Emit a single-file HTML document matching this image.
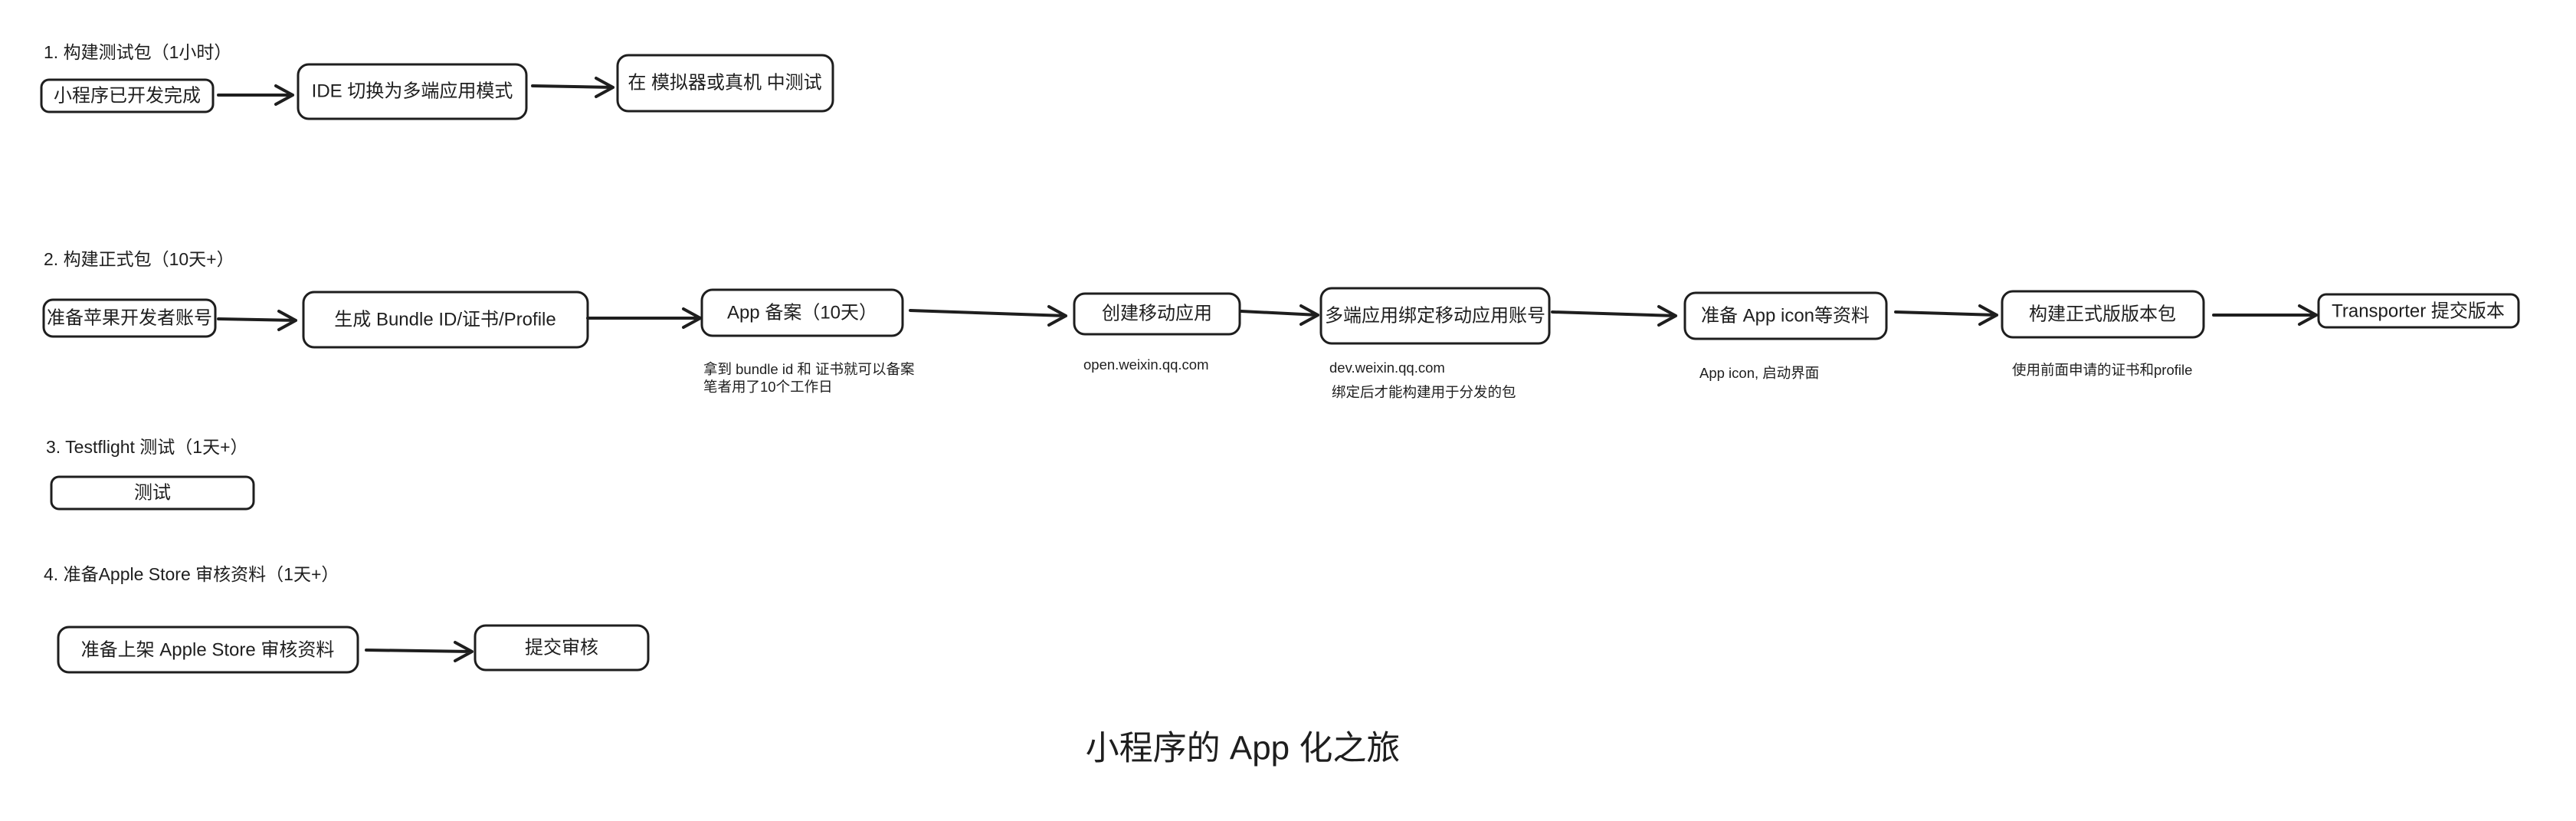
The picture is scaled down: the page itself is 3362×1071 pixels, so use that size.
<!DOCTYPE html>
<html><head><meta charset="utf-8"><style>
html,body{margin:0;padding:0;background:#fff;}
svg text{font-family:"Liberation Sans","Noto Sans CJK SC",sans-serif;fill:#1e1e1e;}
.b{fill:#fff;stroke:#1e1e1e;stroke-width:3;}
.a{stroke:#1e1e1e;stroke-width:4;fill:none;stroke-linecap:round;stroke-linejoin:round;}
.t{font-size:24px;text-anchor:middle;dominant-baseline:central;}
.h{font-size:23px;}
.n{font-size:18.5px;}
</style></head><body>
<svg width="3362" height="1066" viewBox="0 0 3362 1066" xmlns="http://www.w3.org/2000/svg">
<text class="h" x="57" y="76">1. 构建测试包（1小时）</text>
<rect class="b" x="54" y="104" width="224" height="42" rx="10"/><text class="t" x="166" y="125">小程序已开发完成</text>
<rect class="b" x="389" y="84" width="298" height="71" rx="14"/><text class="t" x="538" y="119">IDE 切换为多端应用模式</text>
<rect class="b" x="806" y="72" width="281" height="73" rx="14"/><text class="t" x="946" y="108">在 模拟器或真机 中测试</text>
<path class="a" d="M285 124 L382 124 M360 112 L382 124 L360 136"/>
<path class="a" d="M695 112 L800 114 M778 102 L800 114 L778 126"/>

<text class="h" x="57" y="346">2. 构建正式包（10天+）</text>
<rect class="b" x="57" y="391" width="224" height="48" rx="12"/><text class="t" x="169" y="415">准备苹果开发者账号</text>
<rect class="b" x="396" y="381" width="371" height="72" rx="14"/><text class="t" x="581" y="417">生成 Bundle ID/证书/Profile</text>
<rect class="b" x="916" y="378" width="262" height="60" rx="14"/><text class="t" x="1047" y="408">App 备案（10天）</text>
<rect class="b" x="1402" y="383" width="216" height="53" rx="14"/><text class="t" x="1510" y="409">创建移动应用</text>
<rect class="b" x="1724" y="376" width="298" height="72" rx="14"/><text class="t" x="1873" y="412">多端应用绑定移动应用账号</text>
<rect class="b" x="2199" y="382" width="263" height="60" rx="14"/><text class="t" x="2330" y="412">准备 App icon等资料</text>
<rect class="b" x="2613" y="380" width="263" height="60" rx="14"/><text class="t" x="2744" y="410">构建正式版版本包</text>
<rect class="b" x="3026" y="384" width="261" height="43" rx="10"/><text class="t" x="3156" y="406">Transporter 提交版本</text>
<path class="a" d="M285 416 L386 418 M364 406 L386 418 L364 430"/>
<path class="a" d="M767 415 L914 415 M892 403 L914 415 L892 427"/>
<path class="a" d="M1188 405 L1391 412 M1369 400 L1391 412 L1369 424"/>
<path class="a" d="M1620 406 L1720 411 M1698 399 L1720 411 L1698 423"/>
<path class="a" d="M2026 407 L2187 412 M2165 400 L2187 412 L2165 424"/>
<path class="a" d="M2474 407 L2606 411 M2584 399 L2606 411 L2584 423"/>
<path class="a" d="M2889 411 L3023 411 M3001 399 L3023 411 L3001 423"/>
<text class="n" x="918" y="488">拿到 bundle id 和 证书就可以备案</text>
<text class="n" x="918" y="511">笔者用了10个工作日</text>
<text class="n" x="1414" y="482">open.weixin.qq.com</text>
<text class="n" x="1735" y="486">dev.weixin.qq.com</text>
<text class="n" x="1738" y="518">绑定后才能构建用于分发的包</text>
<text class="n" x="2218" y="493">App icon, 启动界面</text>
<text class="n" x="2626" y="489">使用前面申请的证书和profile</text>

<text class="h" x="60" y="591">3.  Testflight 测试（1天+）</text>
<rect class="b" x="67" y="622" width="264" height="42" rx="10"/><text class="t" x="199" y="643">测试</text>

<text class="h" x="57" y="757">4. 准备Apple Store 审核资料（1天+）</text>
<rect class="b" x="76" y="818" width="391" height="59" rx="14"/><text class="t" x="271" y="848">准备上架 Apple Store 审核资料</text>
<rect class="b" x="620" y="816" width="226" height="58" rx="14"/><text class="t" x="733" y="845">提交审核</text>
<path class="a" d="M478 848 L616 850 M594 838 L616 850 L594 862"/>

<text x="1622" y="976" style="font-size:44px;text-anchor:middle;dominant-baseline:central;">小程序的 App 化之旅</text>
</svg>
</body></html>
